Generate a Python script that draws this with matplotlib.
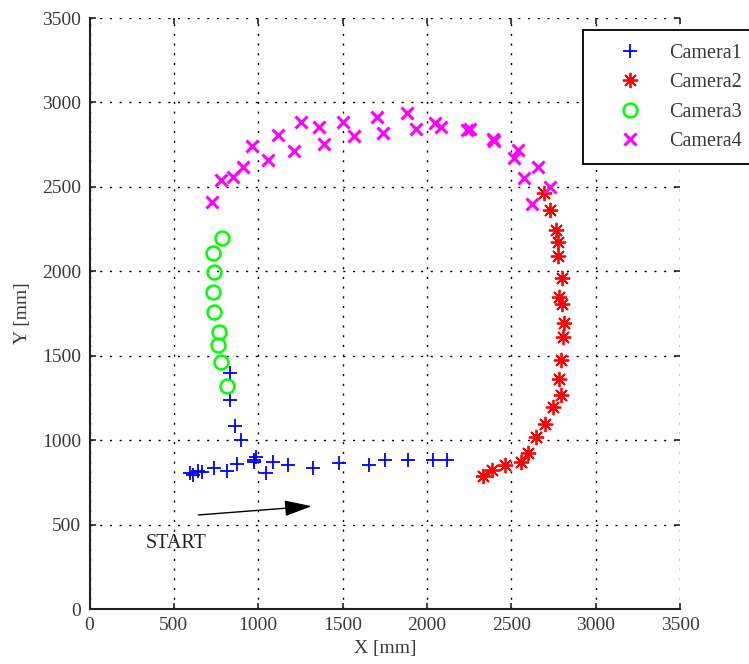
import numpy as np
from matplotlib import pyplot as plt

# camera 1 (blue +)
cam1_x = [596, 615, 645, 665, 740, 813, 872, 975, 985, 977, 1044, 1086, 1179, 1327, 1481,
          1659, 1752, 1890, 2038, 2121, 896, 862, 833, 833]
cam1_y = [807, 793, 819, 813, 833, 819, 857, 870, 900, 882, 803, 872, 853, 833, 862,
          853, 882, 882, 882, 882, 1000, 1083, 1237, 1399]

# camera 2 (red *)
cam2_x = [2334, 2384, 2463, 2558, 2601, 2647, 2700, 2746, 2793, 2785, 2793, 2805, 2813, 2803,
          2785, 2799, 2775, 2779, 2765, 2730, 2696]
cam2_y = [787, 823, 853, 872, 922, 1017, 1095, 1194, 1267, 1360, 1474, 1609, 1695, 1806,
          1849, 1958, 2090, 2175, 2244, 2362, 2461]

# camera 3 (green o)
cam3_x = [813, 779, 760, 769, 736, 734, 740, 734, 783]
cam3_y = [1322, 1464, 1563, 1642, 1760, 1879, 1997, 2106, 2195]

# camera 4 (magenta x)
cam4_x = [724, 779, 852, 912, 961, 1060, 1115, 1212, 1252, 1360, 1392, 1504, 1570, 1702, 1738,
          1880, 1934, 2048, 2082, 2235, 2255, 2394, 2400, 2516, 2542, 2576, 2621, 2657, 2730]
cam4_y = [2412, 2540, 2556, 2619, 2741, 2662, 2806, 2713, 2885, 2855, 2757, 2885, 2800, 2915, 2820,
          2938, 2840, 2879, 2855, 2836, 2842, 2781, 2770, 2674, 2718, 2550, 2398, 2619, 2497]

ticks = [0, 500, 1000, 1500, 2000, 2500, 3000, 3500]

plt.rcParams['font.family'] = ['Liberation Serif', 'DejaVu Serif']
plt.rcParams['font.size'] = 14

fig = plt.figure(figsize=(7.49, 6.64), dpi=100)
ax = fig.add_axes([0.1195, 0.0828, 0.7884, 0.890])

ax.plot(cam1_x, cam1_y, linestyle='none', marker='+', color='#0000ff',
        markersize=10, markeredgewidth=1.3, label='Camera1')
ax.plot(cam2_x, cam2_y, linestyle='none', marker=(8, 2, 0), color='#ff0000',
        markersize=11, markeredgewidth=1.3, label='Camera2')
ax.plot(cam3_x, cam3_y, linestyle='none', marker='o', markerfacecolor='none',
        markeredgecolor='#00ff00', markersize=10, markeredgewidth=1.8, label='Camera3')
ax.plot(cam4_x, cam4_y, linestyle='none', marker='x', color='#ff00ff',
        markersize=8, markeredgewidth=2.2, label='Camera4')

# start arrow
ax.annotate('', xy=(1317, 609), xytext=(645, 557),
            arrowprops=dict(arrowstyle='-|>,head_length=1.2,head_width=0.35',
                            color='black', lw=1.0, shrinkA=0, shrinkB=0))
ax.text(330, 390, 'START', ha='left', va='center', color='#222222', fontsize=14.5)

ax.set_xlim(0, 3500)
ax.set_ylim(0, 3500)
ax.set_xticks(ticks)
ax.set_yticks(ticks)
ax.grid(True, color='black', linewidth=1.0, linestyle=(0, (1.5, 5.5)))
ax.tick_params(direction='in', length=4, width=1.2, colors='#222222',
               labelcolor='#3a3a3a', top=True, right=True, pad=6)

for side in ['top', 'right']:
    ax.spines[side].set_visible(False)
for side in ['left', 'bottom']:
    ax.spines[side].set_linewidth(1.5)
    ax.spines[side].set_color('#222222')

ax.set_xlabel('X [mm]', color='#3a3a3a', labelpad=4)
ax.set_ylabel('Y [mm]', color='#3a3a3a', labelpad=8)

# legend box runs past the right edge of the figure
leg = ax.legend(loc='upper left', bbox_to_anchor=(0.836, 0.979), fancybox=False,
                edgecolor='black', framealpha=1, borderaxespad=0, labelspacing=0.52,
                handletextpad=0.2, borderpad=0.65, handlelength=3.4, fontsize=14.5)
leg.get_frame().set_linewidth(1.3)
for t in leg.get_texts():
    t.set_color('#3a3a3a')

fig.savefig('out.png', dpi=100)
